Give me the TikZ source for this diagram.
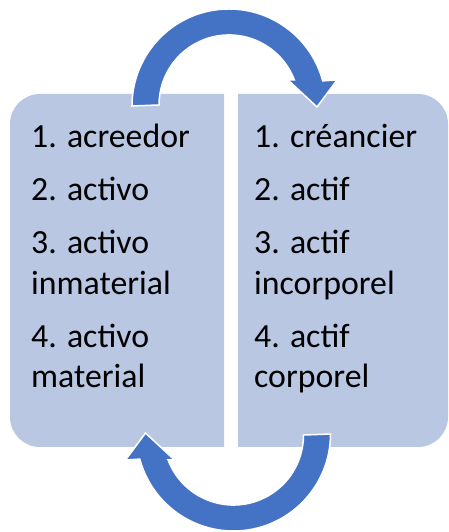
\documentclass[tikz,border=0pt]{standalone}
\usepackage{fontspec}
\setmainfont{Carlito}
\definecolor{boxfill}{HTML}{B9C7E3}
\definecolor{arrowblue}{HTML}{4472C4}
\begin{document}
\begin{tikzpicture}[x=1pt,y=1pt,
  panel/.style={fill=boxfill},
  cyclearrow/.style={fill=arrowblue,draw=white,line width=1.5pt,line join=miter},
  item/.style={anchor=base west,inner sep=0pt,font=\fontsize{33.8}{40}\selectfont,text=black}]
\useasboundingbox (0,0) rectangle (448,532);
% left panel (rounded on the left)
\fill[panel] (224,438) -- (40,438) arc[start angle=90,end angle=180,radius=30] -- (10,115) arc[start angle=180,end angle=270,radius=30] -- (224,85) -- cycle;
% right panel (rounded on the right)
\fill[panel] (238,438) -- (418,438) arc[start angle=90,end angle=0,radius=30] -- (448,115) arc[start angle=0,end angle=-90,radius=30] -- (238,85) -- cycle;
\coordinate (L) at (117,262);
\coordinate (R) at (343,262);
% top arrow
\draw[cyclearrow] (132,426) arc[start angle=180,end angle=15,radius=97] -- (337,452) -- (317,425) -- (288,452) -- (294.4,452) arc[start angle=20.9,end angle=180,radius=70] -- cycle;
% bottom arrow
\begin{scope}[rotate around={180:(231.25,262)}]
\draw[cyclearrow] (132,426) arc[start angle=180,end angle=15,radius=97] -- (337,452) -- (317,425) -- (288,452) -- (294.4,452) arc[start angle=20.9,end angle=180,radius=70] -- cycle;
\end{scope}
% left texts
\node[item] (l1) at (31,384) {1. acreedor};
\node[item] (l2) at (31,331) {2. activo};
\node[item] (l3) at (31,278) {3. activo};
\node[item] (l3b) at (31,237) {inmaterial};
\node[item] (l4) at (31,184) {4. activo};
\node[item] (l4b) at (31,144) {material};
% right texts
\node[item] (r1) at (254,384) {1. créancier};
\node[item] (r2) at (254,331) {2. actif};
\node[item] (r3) at (254,278) {3. actif};
\node[item] (r3b) at (254,237) {incorporel};
\node[item] (r4) at (254,184) {4. actif};
\node[item] (r4b) at (254,144) {corporel};
\end{tikzpicture}
\end{document}
